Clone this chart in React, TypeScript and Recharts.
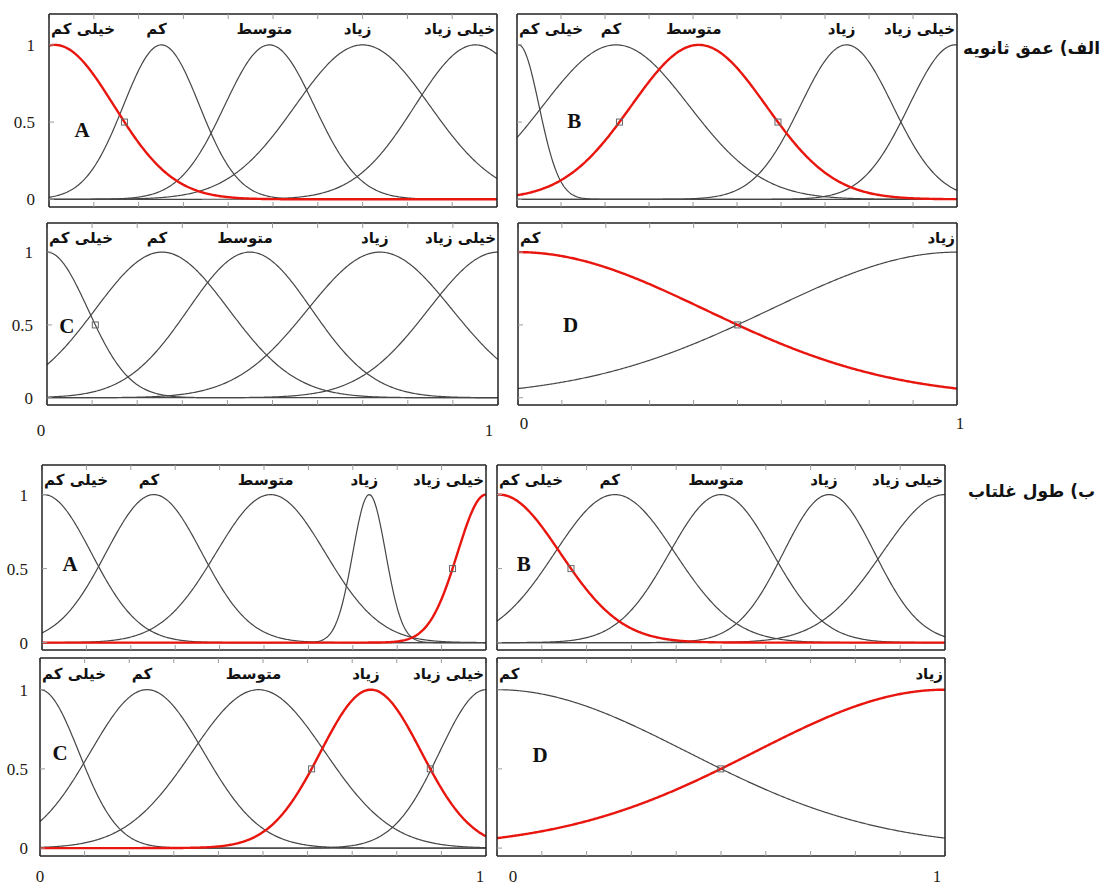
import React from 'react';
import { LineChart, Line, XAxis, YAxis, ReferenceDot } from 'recharts';

// linguistic terms
const TERMS_5 = ['خیلی کم', 'کم', 'متوسط', 'زیاد', 'خیلی زیاد'];
const TERMS_2 = ['کم', 'زیاد'];

// gaussian membership functions: centre and spread of each term, per panel
// الف) عمق ثانویه
const depthA_centers = [0.013, 0.251, 0.492, 0.7, 0.952];
const depthA_sigmas = [0.132, 0.085, 0.1, 0.15, 0.135];
const depthB_centers = [0.004, 0.225, 0.413, 0.749, 0.996];
const depthB_sigmas = [0.046, 0.166, 0.153, 0.105, 0.105];
const depthC_centers = [0, 0.255, 0.45, 0.738, 1];
const depthC_sigmas = [0.091, 0.148, 0.137, 0.16, 0.154];
const depthD_centers = [0, 1];
const depthD_sigmas = [0.425, 0.425];

// ب) طول غلتاب
const lengthA_centers = [0.004, 0.252, 0.515, 0.737, 1];
const lengthA_sigmas = [0.107, 0.108, 0.123, 0.037, 0.064];
const lengthB_centers = [0.005, 0.263, 0.5, 0.741, 1];
const lengthB_sigmas = [0.136, 0.134, 0.115, 0.102, 0.14];
const lengthC_centers = [0, 0.24, 0.49, 0.742, 1];
const lengthC_sigmas = [0.087, 0.127, 0.149, 0.113, 0.104];
const lengthD_centers = [0, 1];
const lengthD_sigmas = [0.425, 0.425];

const X_TICKS = [0, 0.1, 0.2, 0.3, 0.4, 0.5, 0.6, 0.7, 0.8, 0.9, 1];
const X_LABELS = [0, 1];
const Y_TICKS = [0, 0.5, 1];
const Y_DOMAIN = [-0.05, 1.2];

const GROUP_TITLES = ['الف) عمق ثانویه', 'ب) طول غلتاب'];

const SAMPLE_X = Array.from({ length: 401 }, (_, i) => i / 400);
const HALF = Math.sqrt(2 * Math.log(2));

const gaussmf = (x: number, c: number, s: number) => Math.exp(-((x - c) ** 2) / (2 * s * s));

type PanelSpec = {
  letter: string;
  terms: string[];
  centers: number[];
  sigmas: number[];
  red: number; // highlighted term drawn in red (-1: none)
  marked: number; // term whose 0.5 crossings get a small square
  box: [number, number, number, number];
  yLabels: boolean;
  xLabels: boolean;
  xGap: number;
  xShift: [number, number];
  yGap: number;
  letterAt: [number, number];
};

const PANELS: PanelSpec[] = [
  { letter: 'A', terms: TERMS_5, centers: depthA_centers, sigmas: depthA_sigmas, red: 0, marked: 0,
    box: [49, 14, 448, 193], yLabels: true, xLabels: false, xGap: 0, xShift: [0, 0], yGap: 19, letterAt: [0.074, 0.45] },
  { letter: 'B', terms: TERMS_5, centers: depthB_centers, sigmas: depthB_sigmas, red: 2, marked: 2,
    box: [517, 14, 440, 193], yLabels: false, xLabels: false, xGap: 0, xShift: [0, 0], yGap: 0, letterAt: [0.13, 0.51] },
  { letter: 'C', terms: TERMS_5, centers: depthC_centers, sigmas: depthC_sigmas, red: -1, marked: 0,
    box: [47, 223, 451, 182], yLabels: true, xLabels: true, xGap: 24, xShift: [-6, -9], yGap: 19, letterAt: [0.044, 0.49] },
  { letter: 'D', terms: TERMS_2, centers: depthD_centers, sigmas: depthD_sigmas, red: 0, marked: 0,
    box: [518, 223, 439, 182], yLabels: false, xLabels: true, xGap: 17, xShift: [6, 3], yGap: 0, letterAt: [0.12, 0.5] },
  { letter: 'A', terms: TERMS_5, centers: lengthA_centers, sigmas: lengthA_sigmas, red: 4, marked: 4,
    box: [42, 465, 444, 185], yLabels: true, xLabels: false, xGap: 0, xShift: [0, 0], yGap: 19, letterAt: [0.063, 0.53] },
  { letter: 'B', terms: TERMS_5, centers: lengthB_centers, sigmas: lengthB_sigmas, red: 0, marked: 0,
    box: [497, 465, 448, 185], yLabels: false, xLabels: false, xGap: 0, xShift: [0, 0], yGap: 0, letterAt: [0.06, 0.53] },
  { letter: 'C', terms: TERMS_5, centers: lengthC_centers, sigmas: lengthC_sigmas, red: 3, marked: 3,
    box: [40, 658, 446, 198], yLabels: true, xLabels: true, xGap: 19, xShift: [0, -6], yGap: 17, letterAt: [0.045, 0.6] },
  { letter: 'D', terms: TERMS_2, centers: lengthD_centers, sigmas: lengthD_sigmas, red: 1, marked: 1,
    box: [497, 658, 448, 198], yLabels: false, xLabels: true, xGap: 19, xShift: [16, -8], yGap: 0, letterAt: [0.096, 0.59] },
];

const RED = '#e8160e';
const GRAY = '#464646';
const FRAME = { stroke: '#222', strokeWidth: 1.5 };
const TICK_LINE = { stroke: '#9a9a9a' };
const TICK_TEXT = { fill: '#241a12', fontSize: 17, fontFamily: '"Liberation Serif", serif' };
const SIDE = 14; // room either side of a frame so the 0 / 1 labels are not clipped

function Panel({ p }: { p: PanelSpec }) {
  const [bx, by, bw, bh] = p.box;
  const yw = p.yLabels ? bx - 1 : SIDE;
  const xh = p.xLabels ? 34 : 10;

  const data = SAMPLE_X.map((x) => {
    const row: Record<string, number> = { x };
    p.centers.forEach((c, i) => {
      row['m' + i] = gaussmf(x, c, p.sigmas[i]);
    });
    return row;
  });

  const order = p.centers.map((_, i) => i).filter((i) => i !== p.red);
  if (p.red >= 0) order.push(p.red);

  const mc = p.centers[p.marked];
  const ms = p.sigmas[p.marked];
  const marks = [mc - ms * HALF, mc + ms * HALF].filter((x) => x >= 0 && x <= 1);

  const ax = { xAxisId: 'b', yAxisId: 'l' };

  const xTick = (t: any) => {
    const v = t.payload.value;
    const k = X_LABELS.indexOf(v);
    if (!p.xLabels || k < 0) return <g />;
    return (
      <text x={t.x + p.xShift[k]} y={t.y} dy="0.71em" textAnchor="middle" {...TICK_TEXT}>
        {String(v)}
      </text>
    );
  };

  return (
    <div style={{ position: 'absolute', left: bx - yw, top: by - 1 }}>
      <LineChart
        width={yw + bw + 1 + SIDE}
        height={1 + bh + xh}
        data={data}
        margin={{ top: 0, right: SIDE, bottom: 0, left: 0 }}
      >
        <XAxis
          xAxisId="b" type="number" dataKey="x" domain={[0, 1]} ticks={X_TICKS} interval={0}
          orientation="bottom" height={xh} tickSize={-5} tickMargin={p.xGap}
          axisLine={FRAME} tickLine={TICK_LINE} tick={xTick}
        />
        <XAxis
          xAxisId="t" type="number" dataKey="x" domain={[0, 1]} ticks={X_TICKS} interval={0}
          orientation="top" height={1} tickSize={-5} axisLine={FRAME} tickLine={TICK_LINE}
          tickFormatter={() => ''}
        />
        <YAxis
          yAxisId="l" type="number" domain={Y_DOMAIN} ticks={Y_TICKS} interval={0}
          width={yw} tickSize={-5} tickMargin={p.yGap} axisLine={FRAME} tickLine={TICK_LINE} tick={TICK_TEXT}
          tickFormatter={(v: number) => (p.yLabels ? String(v) : '')}
        />
        <YAxis
          yAxisId="r" orientation="right" type="number" domain={Y_DOMAIN} ticks={Y_TICKS} interval={0}
          width={1} tickSize={-5} axisLine={FRAME} tickLine={TICK_LINE} tickFormatter={() => ''}
        />
        {order.map((i) => (
          <Line
            key={i}
            {...ax}
            dataKey={'m' + i}
            type="linear"
            dot={false}
            stroke={i === p.red ? RED : GRAY}
            strokeWidth={i === p.red ? 2.4 : 1.2}
            isAnimationActive={false}
          />
        ))}
        {marks.map((x, k) => (
          <ReferenceDot
            key={'mk' + k}
            {...ax}
            x={x}
            y={0.5}
            shape={(s: any) => (
              <rect x={s.cx - 3} y={s.cy - 3} width={6} height={6} fill="none" stroke="#666" strokeWidth={1} />
            )}
          />
        ))}
        {p.terms.map((t, i) => {
          const c = p.centers[i];
          const anchor = c < 0.1 ? 'start' : c > 0.9 ? 'end' : 'middle';
          const lx = c < 0.1 ? 0 : c > 0.9 ? 1 : c;
          return (
            <ReferenceDot
              key={'t' + i}
              {...ax}
              x={lx}
              y={1.1}
              shape={(s: any) => (
                <text
                  x={s.cx + (anchor === 'start' ? 2 : anchor === 'end' ? -2 : -5)}
                  y={s.cy}
                  textAnchor={anchor}
                  dominantBaseline="central"
                  fontFamily='"DejaVu Sans", sans-serif'
                  fontWeight="bold"
                  fontSize={15}
                  fill="#111"
                >
                  {t}
                </text>
              )}
            />
          );
        })}
        <ReferenceDot
          {...ax}
          x={p.letterAt[0]}
          y={p.letterAt[1]}
          shape={(s: any) => (
            <text
              x={s.cx}
              y={s.cy}
              textAnchor="middle"
              dominantBaseline="central"
              fontFamily='"Liberation Serif", serif'
              fontWeight="bold"
              fontSize={21}
              fill="#111"
            >
              {p.letter}
            </text>
          )}
        />
      </LineChart>
    </div>
  );
}

function GroupTitle({ text, right, top }: { text: string; right: number; top: number }) {
  return (
    <div
      dir="rtl"
      style={{
        position: 'absolute',
        right,
        top,
        fontFamily: '"DejaVu Sans", sans-serif',
        fontWeight: 'bold',
        fontSize: 17,
        color: '#111',
        whiteSpace: 'nowrap',
      }}
    >
      {text}
    </div>
  );
}

export default function App() {
  return (
    <div style={{ position: 'absolute', left: 0, top: 0, width: 1105, height: 884, background: '#fff' }}>
      {PANELS.map((p, i) => (
        <Panel key={i} p={p} />
      ))}
      <GroupTitle text={GROUP_TITLES[0]} right={5} top={38} />
      <GroupTitle text={GROUP_TITLES[1]} right={10} top={481} />
    </div>
  );
}
